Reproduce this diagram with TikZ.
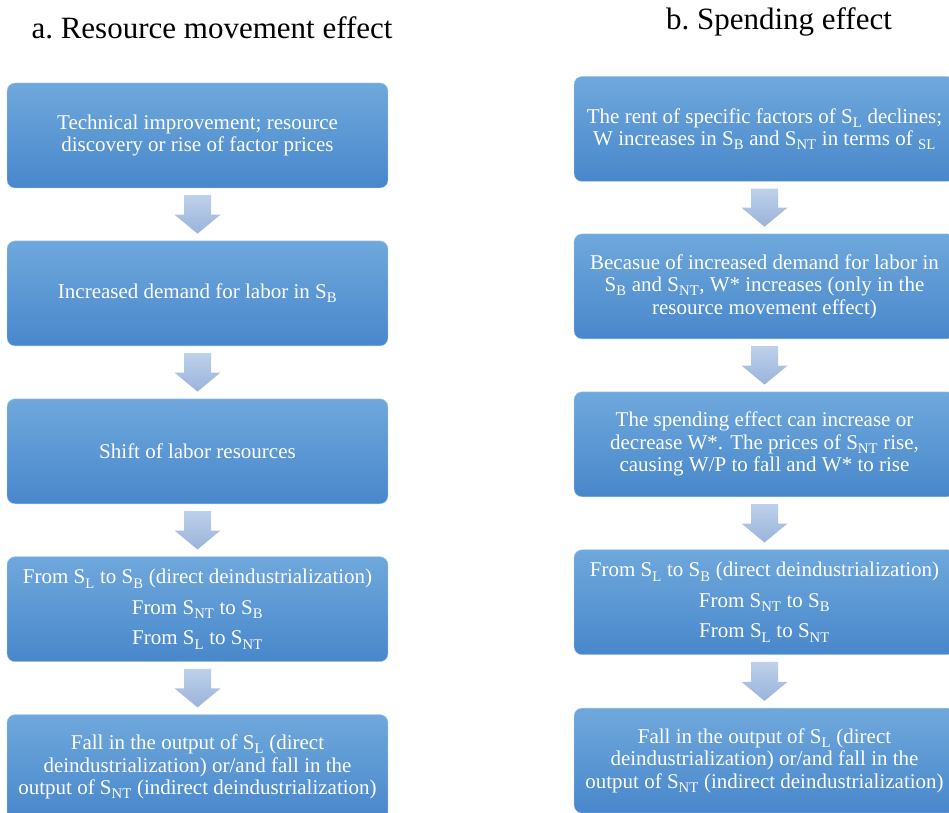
\documentclass[tikz,border=0pt]{standalone}
\usepackage{fontspec}
\setmainfont{Liberation Serif}
\usetikzlibrary{calc,positioning}
\definecolor{boxtop}{HTML}{6FA8DC}
\definecolor{boxbot}{HTML}{4887CB}
\definecolor{arrtop}{HTML}{BED1EB}
\definecolor{arrbot}{HTML}{9AB3DA}
\tikzset{
  stage/.style={rounded corners=8pt, top color=boxtop, bottom color=boxbot,
    draw=boxtop!55!white, line width=0.4pt, minimum width=381pt,
    minimum height=105pt, inner sep=0pt, align=center, text=white,
    font=\fontsize{21}{22.5}\selectfont},
  heading/.style={font=\fontsize{31}{34}\selectfont, text=black},
  blockarr/.style={top color=arrtop, bottom color=arrbot, draw=none}
}
\newcommand{\Sb}[1]{\textsubscript{\raisebox{-1pt}{#1}}}
\newcommand{\Ssub}[1]{S\Sb{#1}}
\newcommand{\DownArrow}[2]{%
  \path[blockarr] ($(#1.south)+(-13.5,-7)$) -- ($(#1.south)+(13.5,-7)$)
    -- ($(#2.north)+(13.5,26)$) -- ($(#2.north)+(23,26)$) -- ($(#2.north)+(0,7)$)
    -- ($(#2.north)+(-23,26)$) -- ($(#2.north)+(-13.5,26)$) -- cycle;
}

\begin{document}
\begin{tikzpicture}[x=1pt, y=1pt]
  \useasboundingbox (0,0) rectangle (949,812);
  \clip (0,0) rectangle (949,812);

  \node[heading] (ha) at (212,784) {a.\ Resource movement effect};
  \node[heading] (hb) at (779,790) {b.\ Spending effect};

  % a. resource movement effect
  \node[stage] (la1) at (197.5,676.5) {Technical improvement; resource\\discovery or rise of factor prices};
  \node[stage, below=52.5pt of la1] (la2) {Increased demand for labor in \Ssub{B}};
  \node[stage, below=52.5pt of la2] (la3) {Shift of labor resources};
  \node[stage, below=52.5pt of la3] (la4) {From \Ssub{L} to \Ssub{B} (direct deindustrialization)\\[8pt]
    From \Ssub{NT} to \Ssub{B}\\[8pt] From \Ssub{L} to \Ssub{NT}};
  \node[stage, below=52.5pt of la4] (la5) {Fall in the output of \Ssub{L} (direct\\deindustrialization) or/and fall in the\\
    output of \Ssub{NT} (indirect deindustrialization)};

  % b. spending effect
  \node[stage] (rb1) at (764.5,683) {The rent of specific factors of \Ssub{L} declines;\\
    W increases in \Ssub{B} and \Ssub{NT} in terms of \Sb{SL}};
  \node[stage, below=52pt of rb1] (rb2) {Becasue of increased demand for labor in\\
    \Ssub{B} and \Ssub{NT}, W* increases (only in the\\resource movement effect)};
  \node[stage, below=52.5pt of rb2] (rb3) {The spending effect can increase or\\
    decrease W*. The prices of \Ssub{NT} rise,\\causing W/P to fall and W* to rise};
  \node[stage, below=52.5pt of rb3] (rb4) {From \Ssub{L} to \Ssub{B} (direct deindustrialization)\\[8pt]
    From \Ssub{NT} to \Ssub{B}\\[8pt] From \Ssub{L} to \Ssub{NT}};
  \node[stage, below=53pt of rb4] (rb5) {Fall in the output of \Ssub{L} (direct\\deindustrialization) or/and fall in the\\
    output of \Ssub{NT} (indirect deindustrialization)};

  \DownArrow{la1}{la2} \DownArrow{la2}{la3} \DownArrow{la3}{la4} \DownArrow{la4}{la5}
  \DownArrow{rb1}{rb2} \DownArrow{rb2}{rb3} \DownArrow{rb3}{rb4} \DownArrow{rb4}{rb5}
\end{tikzpicture}
\end{document}
